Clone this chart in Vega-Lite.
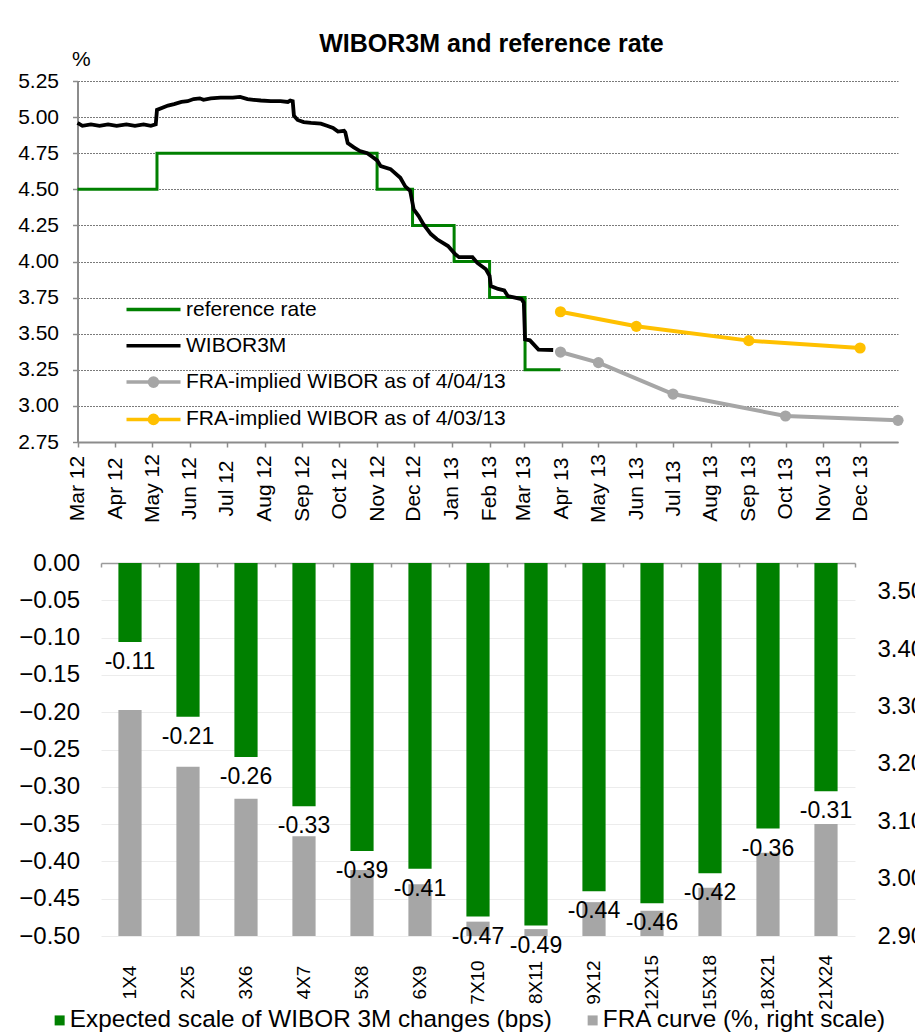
{
  "$schema": "https://vega.github.io/schema/vega-lite/v6.json",
  "background": "white",
  "padding": {"left": 17, "top": 32, "right": 0, "bottom": 0},
  "config": {
    "font": "Liberation Sans",
    "view": {"stroke": null},
    "axis": {"labelColor": "black", "labelFont": "Liberation Sans", "titleColor": "black"},
    "legend": {"labelColor": "black", "labelFont": "Liberation Sans"}
  },
  "datasets": {
    "ref": [
      {"date": "2012-03-01", "value": 4.5, "series": "reference rate"},
      {"date": "2012-05-05", "value": 4.75, "series": "reference rate"},
      {"date": "2012-11-01", "value": 4.5, "series": "reference rate"},
      {"date": "2012-11-30", "value": 4.25, "series": "reference rate"},
      {"date": "2013-01-03", "value": 4.0, "series": "reference rate"},
      {"date": "2013-02-01", "value": 3.75, "series": "reference rate"},
      {"date": "2013-03-02", "value": 3.25, "series": "reference rate"},
      {"date": "2013-03-31", "value": 3.25, "series": "reference rate"}
    ],
    "wibor": [
      {"date": "2012-03-01", "value": 4.96, "series": "WIBOR3M"},
      {"date": "2012-03-05", "value": 4.94, "series": "WIBOR3M"},
      {"date": "2012-03-12", "value": 4.95, "series": "WIBOR3M"},
      {"date": "2012-03-19", "value": 4.94, "series": "WIBOR3M"},
      {"date": "2012-03-26", "value": 4.95, "series": "WIBOR3M"},
      {"date": "2012-04-02", "value": 4.94, "series": "WIBOR3M"},
      {"date": "2012-04-10", "value": 4.95, "series": "WIBOR3M"},
      {"date": "2012-04-17", "value": 4.94, "series": "WIBOR3M"},
      {"date": "2012-04-24", "value": 4.95, "series": "WIBOR3M"},
      {"date": "2012-04-30", "value": 4.94, "series": "WIBOR3M"},
      {"date": "2012-05-04", "value": 4.95, "series": "WIBOR3M"},
      {"date": "2012-05-05", "value": 5.05, "series": "WIBOR3M"},
      {"date": "2012-05-14", "value": 5.08, "series": "WIBOR3M"},
      {"date": "2012-05-19", "value": 5.09, "series": "WIBOR3M"},
      {"date": "2012-05-25", "value": 5.105, "series": "WIBOR3M"},
      {"date": "2012-05-30", "value": 5.11, "series": "WIBOR3M"},
      {"date": "2012-06-04", "value": 5.125, "series": "WIBOR3M"},
      {"date": "2012-06-09", "value": 5.13, "series": "WIBOR3M"},
      {"date": "2012-06-12", "value": 5.12, "series": "WIBOR3M"},
      {"date": "2012-06-18", "value": 5.13, "series": "WIBOR3M"},
      {"date": "2012-06-26", "value": 5.135, "series": "WIBOR3M"},
      {"date": "2012-07-06", "value": 5.135, "series": "WIBOR3M"},
      {"date": "2012-07-12", "value": 5.14, "series": "WIBOR3M"},
      {"date": "2012-07-18", "value": 5.125, "series": "WIBOR3M"},
      {"date": "2012-07-23", "value": 5.12, "series": "WIBOR3M"},
      {"date": "2012-07-29", "value": 5.115, "series": "WIBOR3M"},
      {"date": "2012-08-06", "value": 5.11, "series": "WIBOR3M"},
      {"date": "2012-08-14", "value": 5.11, "series": "WIBOR3M"},
      {"date": "2012-08-20", "value": 5.105, "series": "WIBOR3M"},
      {"date": "2012-08-22", "value": 5.115, "series": "WIBOR3M"},
      {"date": "2012-08-24", "value": 5.11, "series": "WIBOR3M"},
      {"date": "2012-08-25", "value": 5.01, "series": "WIBOR3M"},
      {"date": "2012-08-28", "value": 4.98, "series": "WIBOR3M"},
      {"date": "2012-09-02", "value": 4.965, "series": "WIBOR3M"},
      {"date": "2012-09-08", "value": 4.96, "series": "WIBOR3M"},
      {"date": "2012-09-16", "value": 4.955, "series": "WIBOR3M"},
      {"date": "2012-09-21", "value": 4.94, "series": "WIBOR3M"},
      {"date": "2012-09-26", "value": 4.925, "series": "WIBOR3M"},
      {"date": "2012-09-30", "value": 4.9, "series": "WIBOR3M"},
      {"date": "2012-10-05", "value": 4.905, "series": "WIBOR3M"},
      {"date": "2012-10-06", "value": 4.895, "series": "WIBOR3M"},
      {"date": "2012-10-08", "value": 4.82, "series": "WIBOR3M"},
      {"date": "2012-10-13", "value": 4.79, "series": "WIBOR3M"},
      {"date": "2012-10-18", "value": 4.765, "series": "WIBOR3M"},
      {"date": "2012-10-24", "value": 4.75, "series": "WIBOR3M"},
      {"date": "2012-10-28", "value": 4.725, "series": "WIBOR3M"},
      {"date": "2012-11-01", "value": 4.7, "series": "WIBOR3M"},
      {"date": "2012-11-04", "value": 4.66, "series": "WIBOR3M"},
      {"date": "2012-11-12", "value": 4.64, "series": "WIBOR3M"},
      {"date": "2012-11-20", "value": 4.58, "series": "WIBOR3M"},
      {"date": "2012-11-24", "value": 4.52, "series": "WIBOR3M"},
      {"date": "2012-11-28", "value": 4.49, "series": "WIBOR3M"},
      {"date": "2012-12-01", "value": 4.36, "series": "WIBOR3M"},
      {"date": "2012-12-05", "value": 4.315, "series": "WIBOR3M"},
      {"date": "2012-12-09", "value": 4.257, "series": "WIBOR3M"},
      {"date": "2012-12-15", "value": 4.19, "series": "WIBOR3M"},
      {"date": "2012-12-20", "value": 4.154, "series": "WIBOR3M"},
      {"date": "2012-12-29", "value": 4.107, "series": "WIBOR3M"},
      {"date": "2013-01-04", "value": 4.05, "series": "WIBOR3M"},
      {"date": "2013-01-07", "value": 4.03, "series": "WIBOR3M"},
      {"date": "2013-01-18", "value": 4.03, "series": "WIBOR3M"},
      {"date": "2013-01-22", "value": 3.99, "series": "WIBOR3M"},
      {"date": "2013-01-29", "value": 3.946, "series": "WIBOR3M"},
      {"date": "2013-02-01", "value": 3.9, "series": "WIBOR3M"},
      {"date": "2013-02-02", "value": 3.83, "series": "WIBOR3M"},
      {"date": "2013-02-08", "value": 3.81, "series": "WIBOR3M"},
      {"date": "2013-02-13", "value": 3.8, "series": "WIBOR3M"},
      {"date": "2013-02-16", "value": 3.76, "series": "WIBOR3M"},
      {"date": "2013-02-27", "value": 3.74, "series": "WIBOR3M"},
      {"date": "2013-03-01", "value": 3.715, "series": "WIBOR3M"},
      {"date": "2013-03-02", "value": 3.46, "series": "WIBOR3M"},
      {"date": "2013-03-06", "value": 3.454, "series": "WIBOR3M"},
      {"date": "2013-03-13", "value": 3.39, "series": "WIBOR3M"},
      {"date": "2013-03-25", "value": 3.387, "series": "WIBOR3M"}
    ],
    "fra": [
      {"date": "2013-03-31", "value": 3.373, "series": "FRA-implied WIBOR as of 4/04/13"},
      {"date": "2013-05-01", "value": 3.3, "series": "FRA-implied WIBOR as of 4/04/13"},
      {"date": "2013-07-01", "value": 3.082, "series": "FRA-implied WIBOR as of 4/04/13"},
      {"date": "2013-10-01", "value": 2.93, "series": "FRA-implied WIBOR as of 4/04/13"},
      {"date": "2014-01-01", "value": 2.9, "series": "FRA-implied WIBOR as of 4/04/13"},
      {"date": "2013-03-31", "value": 3.652, "series": "FRA-implied WIBOR as of 4/03/13"},
      {"date": "2013-06-01", "value": 3.551, "series": "FRA-implied WIBOR as of 4/03/13"},
      {"date": "2013-09-01", "value": 3.452, "series": "FRA-implied WIBOR as of 4/03/13"},
      {"date": "2013-12-01", "value": 3.401, "series": "FRA-implied WIBOR as of 4/03/13"}
    ],
    "bars": [
      {"tenor": "1X4", "change": -0.106, "label": "-0.11", "fra": 3.294},
      {"tenor": "2X5", "change": -0.206, "label": "-0.21", "fra": 3.195},
      {"tenor": "3X6", "change": -0.26, "label": "-0.26", "fra": 3.139},
      {"tenor": "4X7", "change": -0.326, "label": "-0.33", "fra": 3.074},
      {"tenor": "5X8", "change": -0.386, "label": "-0.39", "fra": 3.015},
      {"tenor": "6X9", "change": -0.41, "label": "-0.41", "fra": 2.99},
      {"tenor": "7X10", "change": -0.474, "label": "-0.47", "fra": 2.925},
      {"tenor": "8X11", "change": -0.486, "label": "-0.49", "fra": 2.912},
      {"tenor": "9X12", "change": -0.44, "label": "-0.44", "fra": 2.959},
      {"tenor": "12X15", "change": -0.456, "label": "-0.46", "fra": 2.944},
      {"tenor": "15X18", "change": -0.416, "label": "-0.42", "fra": 2.984},
      {"tenor": "18X21", "change": -0.356, "label": "-0.36", "fra": 3.045},
      {"tenor": "21X24", "change": -0.306, "label": "-0.31", "fra": 3.095}
    ]
  },
  "concat": [
    {
      "width": 797,
      "height": 361,
      "title": {"text": "WIBOR3M and reference rate", "fontSize": 25, "fontWeight": "bold", "font": "Liberation Sans", "color": "black", "anchor": "middle", "frame": "group", "dx": -8, "offset": -29, "baseline": "alphabetic"},
      "encoding": {
        "x": {
          "field": "date", "type": "temporal",
          "scale": {"type": "utc", "range": [-23.5, 797], "domain": [{"year": 2012, "month": 3, "date": 1, "utc": true}, {"year": 2014, "month": 1, "date": 1, "utc": true}]},
          "axis": {
            "title": null, "labelExpr": "utcFormat(datum.value, '%b %y')",
            "values": [
              {"year": 2012, "month": 3, "date": 1, "utc": true}, {"year": 2012, "month": 4, "date": 1, "utc": true},
              {"year": 2012, "month": 5, "date": 1, "utc": true}, {"year": 2012, "month": 6, "date": 1, "utc": true},
              {"year": 2012, "month": 7, "date": 1, "utc": true}, {"year": 2012, "month": 8, "date": 1, "utc": true},
              {"year": 2012, "month": 9, "date": 1, "utc": true}, {"year": 2012, "month": 10, "date": 1, "utc": true},
              {"year": 2012, "month": 11, "date": 1, "utc": true}, {"year": 2012, "month": 12, "date": 1, "utc": true},
              {"year": 2013, "month": 1, "date": 1, "utc": true}, {"year": 2013, "month": 2, "date": 1, "utc": true},
              {"year": 2013, "month": 3, "date": 1, "utc": true}, {"year": 2013, "month": 4, "date": 1, "utc": true},
              {"year": 2013, "month": 5, "date": 1, "utc": true}, {"year": 2013, "month": 6, "date": 1, "utc": true},
              {"year": 2013, "month": 7, "date": 1, "utc": true}, {"year": 2013, "month": 8, "date": 1, "utc": true},
              {"year": 2013, "month": 9, "date": 1, "utc": true}, {"year": 2013, "month": 10, "date": 1, "utc": true},
              {"year": 2013, "month": 11, "date": 1, "utc": true}, {"year": 2013, "month": 12, "date": 1, "utc": true}
            ],
            "labelAngle": 270, "labelAlign": "center", "labelBaseline": "middle", "labelPadding": 41,
            "labelFontSize": 21, "labelOverlap": false, "labelFlush": false,
            "tickSize": 5, "tickColor": "#8c8c8c", "tickWidth": 1.5,
            "domainColor": "#8c8c8c", "domainWidth": 2, "grid": false
          }
        },
        "y": {
          "field": "value", "type": "quantitative",
          "scale": {"domain": [2.75, 5.25], "nice": false, "zero": false},
          "axis": {
            "values": [2.75, 3.0, 3.25, 3.5, 3.75, 4.0, 4.25, 4.5, 4.75, 5.0, 5.25],
            "format": ".2f", "labelFontSize": 21, "labelPadding": 14, "offset": 23.5,
            "tickSize": 5, "tickColor": "#8c8c8c", "tickWidth": 1.5,
            "domainColor": "#8c8c8c", "domainWidth": 2,
            "grid": true, "gridColor": "#7a7a7a", "gridDash": [2, 1], "gridWidth": 1,
            "title": "%", "titleAngle": 0, "titleX": -6, "titleY": -16, "titleAlign": "left",
            "titleBaseline": "alphabetic", "titleFontSize": 21, "titleFontWeight": "normal"
          }
        },
        "color": {
          "field": "series", "type": "nominal",
          "scale": {
            "domain": ["reference rate", "WIBOR3M", "FRA-implied WIBOR as of 4/04/13", "FRA-implied WIBOR as of 4/03/13"],
            "range": ["#008000", "#000000", "#a6a6a6", "#ffc000"]
          },
          "legend": {
            "orient": "none", "legendX": 37, "legendY": 213, "title": null,
            "labelFontSize": 21, "labelLimit": 0, "symbolSize": 729, "symbolStrokeWidth": 3.5,
            "labelOffset": 17, "rowPadding": 10.3,
            "encode": {
              "symbols": {
                "update": {
                  "shape": {"signal": "indexof(datum.value, 'FRA') == 0 ? 'M-2,0H2M-0.3,0A0.3,0.3 0 1,0 0.3,0A0.3,0.3 0 1,0 -0.3,0' : 'M-2,0H2'"},
                  "fill": {"signal": "datum.value == 'FRA-implied WIBOR as of 4/04/13' ? '#a6a6a6' : datum.value == 'FRA-implied WIBOR as of 4/03/13' ? '#ffc000' : 'transparent'"},
                  "strokeWidth": {"value": 3.5}
                }
              }
            }
          }
        }
      },
      "layer": [
        {"data": {"name": "ref"}, "mark": {"type": "line", "interpolate": "step-after", "strokeWidth": 3}},
        {"data": {"name": "wibor"}, "mark": {"type": "line", "strokeWidth": 3.8}},
        {"data": {"name": "fra"}, "mark": {"type": "line", "strokeWidth": 4, "point": {"size": 125, "filled": true}}}
      ]
    },
    {
      "width": 754,
      "height": 373,
      "data": {"name": "bars"},
      "encoding": {
        "x": {"field": "tenor", "type": "nominal", "sort": null, "scale": {"paddingInner": 0, "paddingOuter": 0}}
      },
      "layer": [
        {
          "mark": {"type": "bar", "width": {"band": 0.4}},
          "encoding": {
            "x": {"field": "tenor", "type": "nominal", "sort": null,
              "axis": {"orient": "top", "labels": false, "title": null, "domain": true, "domainColor": "#9a9a9a", "domainWidth": 1.5,
                "ticks": true, "tickSize": -4, "tickColor": "#9a9a9a", "tickWidth": 1.5, "bandPosition": 1, "tickExtra": true, "grid": false}},
            "y": {"field": "fra", "type": "quantitative",
              "scale": {"domain": [2.9, 3.55], "zero": false, "nice": false},
              "axis": {"orient": "right", "values": [2.9, 3.0, 3.1, 3.2, 3.3, 3.4, 3.5], "format": ".2f",
                "labelFontSize": 24, "labelPadding": 22, "ticks": false, "domain": false, "grid": false, "title": null}},
            "y2": {"datum": 2.9},
            "color": {"datum": "FRA curve (%, right scale)", "type": "nominal"}
          }
        },
        {
          "encoding": {
            "x": {"field": "tenor", "type": "nominal", "sort": null,
              "axis": {"orient": "bottom", "title": null, "labelAngle": 270, "labelAlign": "center", "labelBaseline": "middle",
                "labelPadding": 46, "labelFontSize": 19, "ticks": false, "domain": false, "grid": false}},
            "y": {"field": "change", "type": "quantitative",
              "scale": {"domain": [-0.5, 0], "nice": false},
              "axis": {"orient": "left", "values": [-0.5, -0.45, -0.4, -0.35, -0.3, -0.25, -0.2, -0.15, -0.1, -0.05, 0],
                "format": ".2f", "labelFontSize": 24, "labelPadding": 21.5, "ticks": false, "domain": false,
                "grid": true, "gridColor": "#ececec", "gridWidth": 1, "title": null}}
          },
          "layer": [
            {
              "mark": {"type": "bar", "width": {"band": 0.4}},
              "encoding": {
                "y2": {"datum": 0},
                "color": {"datum": "Expected scale of WIBOR 3M changes (bps)", "type": "nominal",
                  "scale": {"domain": ["Expected scale of WIBOR 3M changes (bps)", "FRA curve (%, right scale)"], "range": ["#008000", "#a6a6a6"]},
                  "legend": {"orient": "none", "direction": "horizontal", "legendX": -53.5, "legendY": 445, "title": null,
                    "symbolType": "square", "symbolSize": 100, "symbolStrokeWidth": 0, "labelFontSize": 24.3, "labelOffset": -2, "labelLimit": 0, "columnPadding": 28}}
              }
            },
            {
              "mark": {"type": "text", "fontSize": 23, "dy": 20, "baseline": "middle", "align": "center", "color": "black"},
              "encoding": {"text": {"field": "label"}}
            }
          ]
        }
      ],
      "resolve": {"scale": {"y": "independent"}, "axis": {"y": "independent", "x": "independent"}}
    }
  ],
  "columns": 1,
  "spacing": 28,
  "resolve": {"scale": {"color": "independent"}, "legend": {"color": "independent"}}
}
